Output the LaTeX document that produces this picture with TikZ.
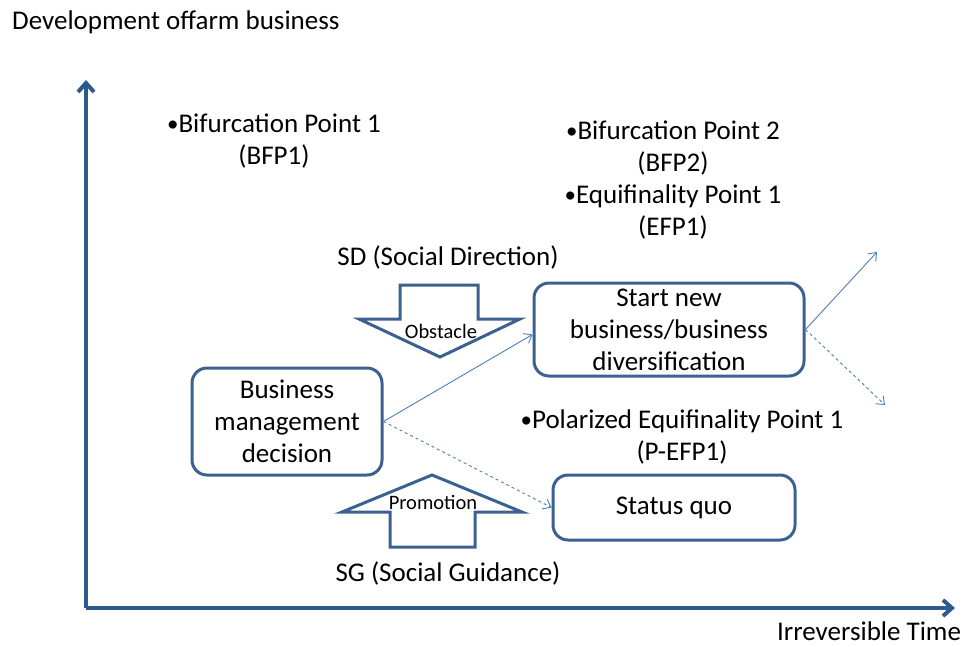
\documentclass[tikz,border=0pt]{standalone}
\usepackage{fontspec}
\setmainfont{Carlito}
\usetikzlibrary{arrows.meta}

\definecolor{axisblue}{HTML}{2B5A8E}
\definecolor{boxblue}{HTML}{3A6190}
\definecolor{linkblue}{HTML}{4A7EBB}

\newcommand{\pt}{\raisebox{1pt}{\fontsize{23}{23}\selectfont•}}

\tikzset{
    bigtext/.style={font=\fontsize{27}{32}\selectfont, align=center, inner sep=0pt},
    smalltext/.style={font=\fontsize{20.5}{22}\selectfont, inner sep=0pt},
    stagebox/.style={bigtext, draw=boxblue, line width=3pt, rounded corners=15pt},
    blockarrow/.style={draw=boxblue, line width=3pt, line join=miter, fill=white},
    axis/.style={draw=axisblue, line width=4pt, -{Straight Barb[length=9pt,width=16pt]}},
    link/.style={draw=linkblue, line width=0.9pt, -{Straight Barb[length=7pt,width=11pt]}},
}

\begin{document}
\begin{tikzpicture}[x=1pt,y=-1pt]
    \useasboundingbox (0,0) rectangle (980,646);

    % Axes
    \coordinate (origin) at (86,608);
    \coordinate (ytop) at (86,80);
    \coordinate (xend) at (955,608);
    \draw[axis] (origin) -- (ytop);
    \draw[axis] (origin) -- (xend);
    \node[bigtext, anchor=west] (ylabel) at (12,22) {Development offarm business};
    \node[bigtext, anchor=base] (xlabel) at (869,640) {Irreversible Time};

    % Points
    \node[bigtext] (bfp1) at (274,141) {\pt Bifurcation Point 1\\(BFP1)};
    \node[bigtext] (bfp2) at (673,180) {\pt Bifurcation Point 2\\(BFP2)\\\pt Equifinality Point 1\\(EFP1)};
    \node[bigtext] (pefp1) at (682,437) {\pt Polarized Equifinality Point 1\\(P-EFP1)};

    % Stages
    \node[stagebox, minimum width=190pt, minimum height=107pt] (biz) at (287,421.5)
        {Business\\management\\decision};
    \node[stagebox, minimum width=270pt, minimum height=93pt] (new) at (669,329.5)
        {Start new\\business/business\\diversification};
    \node[stagebox, minimum width=242pt, minimum height=65pt] (quo) at (674,507.5) {Status quo};

    % Social direction (obstacle)
    \node[bigtext] (sd) at (448,257) {SD (Social Direction)};
    \draw[blockarrow] (400,285) -- (478,285) -- (478,319) -- (520,319) -- (440,357)
        -- (359,319) -- (400,319) -- cycle;
    \node[smalltext] (obstacle) at (441,331) {Obstacle};

    % Social guidance (promotion)
    \draw[blockarrow] (390,547) -- (475,547) -- (475,512) -- (522,512) -- (432,475)
        -- (342,512) -- (390,512) -- cycle;
    \node[smalltext] (promotion) at (433,502) {Promotion};
    \node[bigtext] (sg) at (448,573) {SG (Social Guidance)};

    % Paths
    \coordinate (up) at (877,252);
    \coordinate (down) at (885,405);
    \draw[link] (biz.east) -- ([yshift=-5pt]new.west);
    \draw[link, dashed] (biz.east) -- (quo.west);
    \draw[link] (new.east) -- (up);
    \draw[link, dashed] (new.east) -- (down);
\end{tikzpicture}
\end{document}
